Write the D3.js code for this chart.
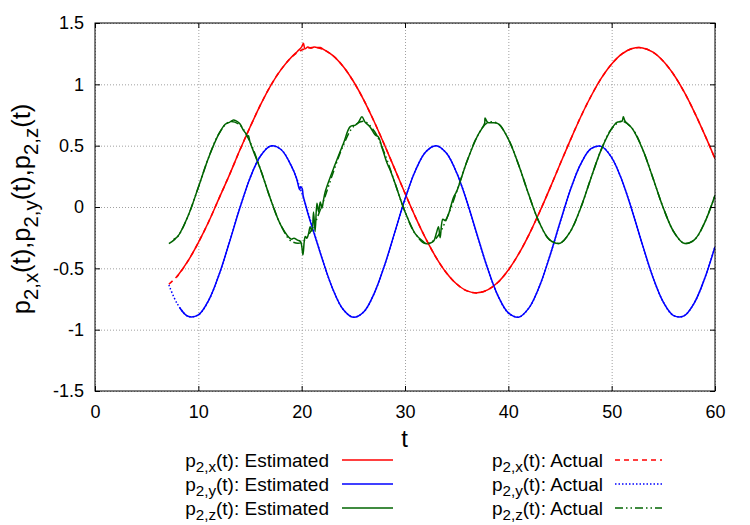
<!DOCTYPE html>
<html>
<head>
<meta charset="utf-8">
<script src="https://cdn.jsdelivr.net/npm/d3@7"></script>
<style>
  body { margin: 0; background: #fff; }
  svg text { font-family: "Liberation Sans", Arial, Helvetica, sans-serif; fill: #000; }
</style>
</head>
<body>
<div id="chart"></div>
<script>
// actual trajectory
var tAct = [7.15, 8, 9, 10, 11, 12, 13, 14, 15, 16, 17, 18, 19,
  20, 21, 22, 23, 24, 25, 26, 27, 28, 29,
  30, 31, 32, 33, 34, 35, 36, 37, 38, 39,
  40, 41, 42, 43, 44, 45, 46, 47, 48, 49,
  50, 51, 52, 53, 54, 55, 56, 57, 58, 59, 60];
var xAct = [-0.63, -0.56, -0.44, -0.29, -0.12, 0.07, 0.26, 0.46, 0.65, 0.83, 0.99, 1.12, 1.22,
  1.28, 1.30, 1.287, 1.236, 1.147, 1.025, 0.874, 0.699, 0.509, 0.311,
  0.112, -0.080, -0.256, -0.410, -0.536, -0.628, -0.684, -0.700, -0.676, -0.614,
  -0.514, -0.383, -0.225, -0.045, 0.148, 0.348, 0.545, 0.734, 0.903, 1.050,
  1.166, 1.248, 1.292, 1.297, 1.262, 1.188, 1.080, 0.940, 0.774, 0.590, 0.394];
var yAct = [-0.636, -0.794, -0.891, -0.880, -0.761, -0.553, -0.290, -0.013, 0.235, 0.414, 0.497, 0.469, 0.335,
  0.118, -0.151, -0.426, -0.666, -0.833, -0.899, -0.856, -0.708, -0.481, -0.209,
  0.065, 0.296, 0.449, 0.500, 0.440, 0.279, 0.043, -0.232, -0.502, -0.724,
  -0.863, -0.898, -0.822, -0.649, -0.404, -0.127, 0.139, 0.350, 0.475, 0.494,
  0.403, 0.216, -0.036, -0.313, -0.574, -0.775, -0.885, -0.887, -0.781, -0.583, -0.324];
var zAct = [-0.299, -0.241, -0.074, 0.160, 0.404, 0.598, 0.694, 0.670, 0.530, 0.310, 0.062, -0.151, -0.279,
  -0.289, -0.180, 0.023, 0.269, 0.497, 0.654, 0.699, 0.622, 0.442, 0.202,
  -0.038, -0.219, -0.299, -0.256, -0.101, 0.127, 0.373, 0.577, 0.688, 0.680,
  0.554, 0.342, 0.095, -0.127, -0.268, -0.295, -0.200, -0.008, 0.236, 0.470,
  0.639, 0.700, 0.639, 0.470, 0.235, -0.008, -0.201, -0.295, -0.268, -0.127, 0.095];

// estimates (solid curves), with their glitches
var tEstX = [7.9, 8, 9, 10, 11, 12, 13, 14, 15, 16, 17, 18, 19, 19.6, 20, 20.17, 20.32, 20.6, 20.9,
  21.2, 21.5, 21.8, 22.2, 23, 24, 25, 26, 27, 28, 29,
  30, 31, 32, 33, 34, 35, 36, 37, 38, 39,
  40, 41, 42, 43, 44, 45, 46, 47, 48, 49,
  50, 51, 52, 53, 54, 55, 56, 57, 58, 59, 60];
var xEst = [-0.57, -0.56, -0.44, -0.29, -0.12, 0.07, 0.26, 0.46, 0.65, 0.83, 0.99, 1.12, 1.22, 1.27, 1.305, 1.335, 1.29, 1.305, 1.295,
  1.305, 1.30, 1.30, 1.28, 1.236, 1.147, 1.025, 0.874, 0.699, 0.509, 0.311,
  0.112, -0.080, -0.256, -0.410, -0.536, -0.628, -0.684, -0.700, -0.676, -0.614,
  -0.514, -0.383, -0.225, -0.045, 0.148, 0.348, 0.545, 0.734, 0.903, 1.050,
  1.166, 1.248, 1.292, 1.297, 1.262, 1.188, 1.080, 0.940, 0.774, 0.590, 0.394];

var tEstY = [8.2, 9, 10, 11, 12, 13, 14, 15, 16, 17, 18, 19, 19.5, 19.8, 19.9, 20.05, 20.15, 20.4, 20.7,
  21, 21.3, 21.6, 22, 23, 24, 25, 26, 27, 28, 29,
  30, 31, 32, 33, 34, 35, 36, 37, 38, 39,
  40, 41, 42, 43, 44, 45, 46, 47, 48, 49,
  50, 51, 52, 53, 54, 55, 56, 57, 58, 59, 60];
var yEst = [-0.821, -0.891, -0.880, -0.761, -0.553, -0.290, -0.013, 0.235, 0.414, 0.497, 0.469, 0.335, 0.235, 0.14, 0.165, 0.15, 0.09, 0.01, -0.08,
  -0.16, -0.24, -0.32, -0.426, -0.666, -0.833, -0.899, -0.856, -0.708, -0.481, -0.209,
  0.065, 0.296, 0.449, 0.500, 0.440, 0.279, 0.043, -0.232, -0.502, -0.724,
  -0.863, -0.898, -0.822, -0.649, -0.404, -0.127, 0.139, 0.350, 0.475, 0.494,
  0.403, 0.216, -0.036, -0.313, -0.574, -0.775, -0.885, -0.887, -0.781, -0.583, -0.324];

var tEstZ = [7.6, 8, 9, 10, 11, 12, 12.6, 13, 13.4, 13.7, 14, 14.4, 14.6, 14.75, 14.85, 15, 16, 17, 18, 19,
  19.25, 19.6, 19.9, 20.12, 20.25, 20.35, 20.5, 20.67, 20.83, 21, 21.15, 21.3, 21.48, 21.64, 21.8, 21.96, 22.12, 22.3,
  23.25, 24.05, 24.7, 25.2, 25.5, 25.83, 26.15, 26.6, 27.1, 27.44, 27.76, 28.25, 28.57, 29,
  30, 31, 31.8, 32.1, 32.4, 32.76, 33.05, 33.24, 33.4, 33.66, 33.9, 34.2, 34.7, 35, 36, 37, 37.7, 37.75, 38, 39,
  40, 41, 42, 43, 44, 45, 46, 47, 48, 49,
  50, 50.5, 51, 51.13, 51.3, 52, 53, 54, 55, 56, 57, 58, 59, 60];
var zEst = [-0.265, -0.241, -0.074, 0.160, 0.404, 0.598, 0.675, 0.69, 0.71, 0.70, 0.68, 0.62, 0.60, 0.57, 0.58, 0.53, 0.310, 0.062, -0.151, -0.262,
  -0.255, -0.27, -0.283, -0.39, -0.28, -0.24, -0.255, -0.215, -0.16, -0.20, -0.04, -0.20, 0.03, -0.04, 0.04, -0.01, 0.06, 0.13,
  0.35, 0.52, 0.655, 0.668, 0.69, 0.735, 0.69, 0.655, 0.59, 0.57, 0.49, 0.36, 0.30, 0.202,
  -0.038, -0.219, -0.285, -0.30, -0.295, -0.28, -0.21, -0.16, -0.25, -0.10, -0.11, -0.06, 0.08, 0.127, 0.373, 0.577, 0.68, 0.725, 0.69, 0.680,
  0.554, 0.342, 0.095, -0.127, -0.268, -0.295, -0.200, -0.008, 0.236, 0.470,
  0.639, 0.69, 0.70, 0.735, 0.70, 0.639, 0.470, 0.235, -0.008, -0.201, -0.295, -0.268, -0.127, 0.095];

var xTicks = [0, 10, 20, 30, 40, 50, 60];
var yTicks = [-1.5, -1, -0.5, 0, 0.5, 1, 1.5];
var comps = ["2,x", "2,y", "2,z"];
var colors = ["#ff0000", "#0000ff", "#006400"];
var dashes = ["5,4", "1.5,2", "8,3,1.5,3,1.5,3"];

var width = 750;
var height = 525;
var plotL = 95, plotR = 715, plotT = 23, plotB = 391;

var svg = d3.select("#chart").append("svg").attr("width", width).attr("height", height);

var x = d3.scaleLinear().domain([0, 60]).range([plotL, plotR]);
var y = d3.scaleLinear().domain([-1.5, 1.5]).range([plotB, plotT]);

// dotted grid
svg.append("g")
  .attr("transform", `translate(0,${plotB})`)
  .call(d3.axisBottom(x).tickValues(xTicks).tickSize(-(plotB - plotT)).tickFormat(""))
  .call(g => g.select(".domain").remove())
  .call(g => g.selectAll("line").attr("stroke", "#a0a0a0").attr("stroke-dasharray", "1,2"));
svg.append("g")
  .attr("transform", `translate(${plotL},0)`)
  .call(d3.axisLeft(y).tickValues(yTicks).tickSize(-(plotR - plotL)).tickFormat(""))
  .call(g => g.select(".domain").remove())
  .call(g => g.selectAll("line").attr("stroke", "#a0a0a0").attr("stroke-dasharray", "1,2"));

// curves
svg.append("clipPath").attr("id", "plot")
  .append("rect").attr("x", plotL).attr("y", plotT).attr("width", plotR - plotL).attr("height", plotB - plotT);

var line = d3.line()
  .x(d => x(d[0]))
  .y(d => y(d[1]))
  .curve(d3.curveCatmullRom.alpha(0.5));

var est = [d3.zip(tEstX, xEst), d3.zip(tEstY, yEst), d3.zip(tEstZ, zEst)];
var act = [d3.zip(tAct, xAct), d3.zip(tAct, yAct), d3.zip(tAct, zAct)];

var curves = svg.append("g").attr("clip-path", "url(#plot)").attr("fill", "none");
est.forEach((s, i) => {
  curves.append("path").attr("d", line(s))
    .attr("stroke", colors[i]).attr("stroke-width", 1.5);
});
act.forEach((s, i) => {
  curves.append("path").attr("d", line(s))
    .attr("stroke", colors[i]).attr("stroke-width", 1.5)
    .attr("stroke-dasharray", dashes[i]);
});

// border + inward ticks
svg.append("rect")
  .attr("x", plotL).attr("y", plotT).attr("width", plotR - plotL).attr("height", plotB - plotT)
  .attr("fill", "none").attr("stroke", "#000");

var fixAxis = g => {
  g.select(".domain").remove();
  g.selectAll("line").attr("stroke", "#000");
  g.attr("font-size", 18).attr("font-family", null);
};

svg.append("g")
  .attr("transform", `translate(0,${plotB})`)
  .call(d3.axisBottom(x).tickValues(xTicks).tickSize(-5).tickPadding(14).tickFormat(d3.format("d")))
  .call(fixAxis);
svg.append("g")
  .attr("transform", `translate(${plotL},0)`)
  .call(d3.axisLeft(y).tickValues(yTicks).tickSize(-5).tickPadding(11).tickFormat(d => String(d)))
  .call(fixAxis);
svg.append("g")
  .attr("transform", `translate(0,${plotT})`)
  .call(d3.axisTop(x).tickValues(xTicks).tickSize(-5).tickFormat(""))
  .call(fixAxis);
svg.append("g")
  .attr("transform", `translate(${plotR},0)`)
  .call(d3.axisRight(y).tickValues(yTicks).tickSize(-5).tickFormat(""))
  .call(fixAxis);

// p with a subscript, then the rest at normal size
function addP(text, sub, tail, size) {
  text.append("tspan").text("p");
  text.append("tspan").attr("font-size", size * 0.8).attr("dy", size * 0.3).text(sub);
  text.append("tspan").attr("dy", -size * 0.3).text(tail);
}

svg.append("text")
  .attr("x", (plotL + plotR) / 2 - 0.5).attr("y", 447)
  .attr("text-anchor", "middle").attr("font-size", 24)
  .text("t");

var ylab = svg.append("text")
  .attr("transform", `translate(30,${(plotT + plotB) / 2 + 2}) rotate(-90)`)
  .attr("text-anchor", "middle").attr("font-size", 25.5);
comps.forEach((c, i) => addP(ylab, c, i < 2 ? "(t)," : "(t)", 25.5));

// legend
var legendCols = [
  { label: "Estimated", textEnd: 329, x0: 342, x1: 393, dash: null },
  { label: "Actual", textEnd: 603, x0: 615, x1: 662, dash: dashes }
];
var legendRows = [460, 484, 508];

legendCols.forEach(col => {
  comps.forEach((c, i) => {
    var t = svg.append("text")
      .attr("x", col.textEnd).attr("y", legendRows[i] + 6.5)
      .attr("text-anchor", "end").attr("font-size", 19);
    addP(t, c, "(t): " + col.label, 19);
    svg.append("line")
      .attr("x1", col.x0).attr("x2", col.x1)
      .attr("y1", legendRows[i]).attr("y2", legendRows[i])
      .attr("stroke", colors[i]).attr("stroke-width", 1.5)
      .attr("stroke-dasharray", col.dash ? col.dash[i] : null);
  });
});
</script>
</body>
</html>
